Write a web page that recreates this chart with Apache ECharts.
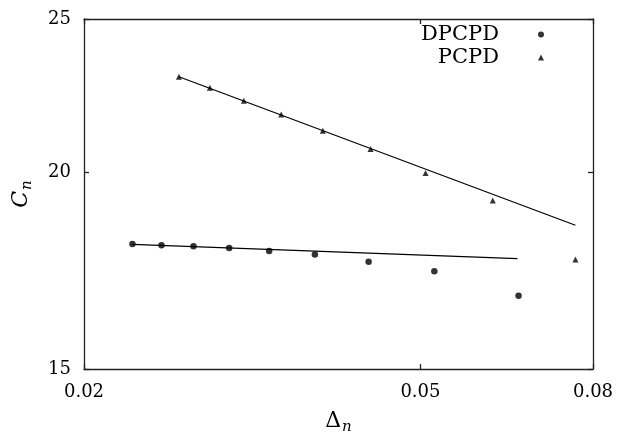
<!DOCTYPE html>
<html><head><meta charset="utf-8">
<script src="https://cdn.jsdelivr.net/npm/echarts@6/dist/echarts.min.js"></script>
<style>html,body{margin:0;padding:0;background:#fff}#c{width:625px;height:433px}</style>
</head><body><div id="c"></div>
<script>
const xTicks = [0.02, 0.05, 0.08];
const yTicks = [15, 20, 25];
const dpcpdX = [0.02282, 0.02470, 0.02695, 0.02970, 0.03312, 0.03751, 0.04342, 0.05193, 0.06532];
const dpcpdY = [18.00, 17.97, 17.94, 17.90, 17.82, 17.73, 17.54, 17.30, 16.69];
const pcpdX = [0.02590, 0.02818, 0.03091, 0.03422, 0.03833, 0.04365, 0.05070, 0.06089, 0.07626];
const pcpdY = [22.98, 22.61, 22.19, 21.75, 21.24, 20.68, 19.97, 19.18, 17.60];
const dpcpdFitX = [0.02282, 0.06512];
const dpcpdFitY = [17.99, 17.62];
const pcpdFitX = [0.02590, 0.07626];
const pcpdFitY = [22.98, 18.50];

const FONT = 'DejaVu Serif';
const AX = '#222';
const zip = (a, b) => a.map((v, i) => [v, b[i]]);

function mkX(pos, showLabel) {
  return {
    type: 'log', logBase: 10, position: pos, min: 0.02, max: 0.08,
    axisLine: { show: true, onZero: false, lineStyle: { color: AX, width: 1.3 } },
    axisTick: { show: true, inside: true, length: 5, customValues: xTicks, lineStyle: { color: AX, width: 1.3 } },
    axisLabel: { show: showLabel, customValues: xTicks, formatter: v => (+v).toFixed(2),
      fontFamily: FONT, fontSize: 18, color: '#000', margin: 14 },
    splitLine: { show: false }, minorTick: { show: false }
  };
}
function mkY(pos, showLabel) {
  return {
    type: 'log', logBase: 10, position: pos, min: 15, max: 25,
    axisLine: { show: true, onZero: false, lineStyle: { color: AX, width: 1.3 } },
    axisTick: { show: true, inside: true, length: 5, customValues: yTicks, lineStyle: { color: AX, width: 1.3 } },
    axisLabel: { show: showLabel, customValues: yTicks, formatter: v => String(Math.round(v)),
      fontFamily: FONT, fontSize: 18, color: '#000', margin: 13 },
    splitLine: { show: false }, minorTick: { show: false }
  };
}

const xMain = mkX('bottom', true);
xMain.name = '{d|Δ}{s|n}';
xMain.nameLocation = 'middle';
xMain.nameGap = 41;
xMain.nameTextStyle = { rich: {
  d: { fontFamily: FONT, fontSize: 22, lineHeight: 24, color: '#000', verticalAlign: 'top' },
  s: { fontFamily: FONT, fontSize: 15, fontStyle: 'italic', lineHeight: 15, color: '#000', verticalAlign: 'top', padding: [10, 0, 0, 1] }
}};
const yMain = mkY('left', true);
yMain.name = '{c|C}{s|n}';
yMain.nameLocation = 'middle';
yMain.nameRotate = 90;
yMain.nameGap = 50;
yMain.nameTextStyle = { rich: {
  c: { fontFamily: FONT, fontSize: 22, fontStyle: 'italic', lineHeight: 24, color: '#000', verticalAlign: 'top' },
  s: { fontFamily: FONT, fontSize: 15, fontStyle: 'italic', lineHeight: 15, color: '#000', verticalAlign: 'top', padding: [10, 0, 0, 1] }
}};

const chart = echarts.init(document.getElementById('c'), null, { renderer: 'canvas' });
chart.setOption({
  animation: false,
  backgroundColor: '#fff',
  grid: { left: 84, right: 32, top: 19, bottom: 64, containLabel: false, outerBoundsMode: 'none' },
  xAxis: [xMain, mkX('top', false)],
  yAxis: [yMain, mkY('right', false)],
  legend: {
    data: ['DPCPD', 'PCPD'], orient: 'vertical', align: 'right', right: 81, top: 24, padding: 0,
    itemWidth: 6, itemHeight: 6, itemGap: 2, selectedMode: false,
    textStyle: { fontFamily: FONT, fontSize: 21, color: '#000', lineHeight: 20, padding: [0, 34, 0, 0] }
  },
  series: [
    { name: 'DPCPD', type: 'scatter', symbol: 'circle', symbolSize: 6.5, itemStyle: { color: '#000' }, data: zip(dpcpdX, dpcpdY) },
    { name: 'PCPD', type: 'scatter', symbol: 'triangle', symbolSize: 6, itemStyle: { color: '#000' }, data: zip(pcpdX, pcpdY) },
    { name: 'DPCPD fit', type: 'line', showSymbol: false, lineStyle: { color: '#000', width: 1.2 }, data: zip(dpcpdFitX, dpcpdFitY) },
    { name: 'PCPD fit', type: 'line', showSymbol: false, lineStyle: { color: '#000', width: 1.2 }, data: zip(pcpdFitX, pcpdFitY) }
  ]
});
</script>
</body></html>
